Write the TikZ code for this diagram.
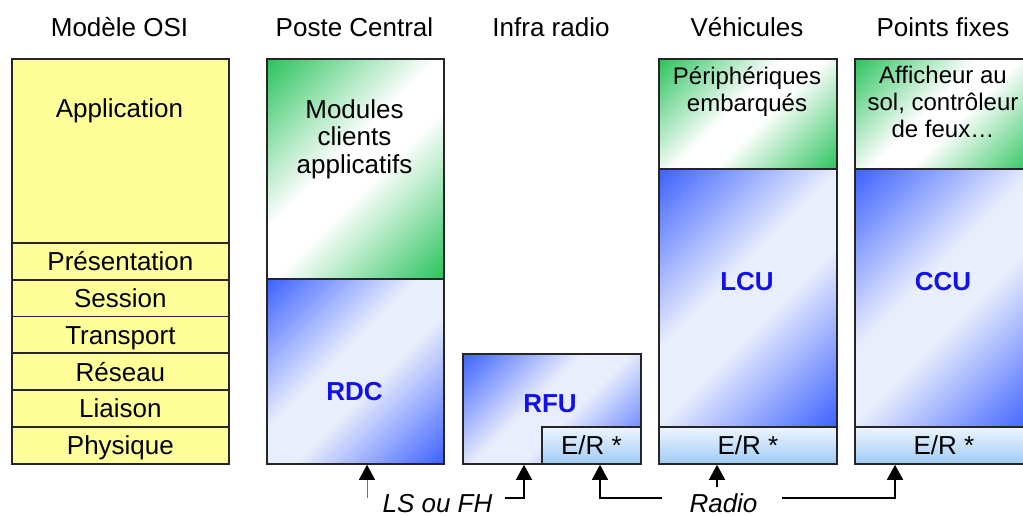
\documentclass[tikz,border=0pt]{standalone}
\usepackage{fontspec}
\setmainfont{Liberation Sans}
\usepackage{xcolor}
\usepackage{tikz}
\usetikzlibrary{arrows.meta}
\usetikzlibrary{shadings}
\definecolor{osijaune}{HTML}{FFFF99}
\definecolor{bleufonce}{HTML}{4064FF}
\definecolor{bleuclair}{HTML}{E9EEFC}
\definecolor{vertfonce}{HTML}{2EC45F}
\definecolor{erbleu}{HTML}{A0CCF6}
\definecolor{erclair}{HTML}{EEF5FF}
\definecolor{textebleu}{HTML}{1010F0}
\newcommand{\taille}{\fontsize{26}{27.5}\selectfont}
\newcommand{\petite}{\fontsize{24}{27}\selectfont}

\pgfdeclarehorizontalshading{bleudiag}{100bp}{color(0bp)=(bleufonce); color(15bp)=(bleufonce); color(44bp)=(bleuclair); color(56bp)=(bleuclair); color(85bp)=(bleufonce); color(100bp)=(bleufonce)}
\pgfdeclarehorizontalshading{vertdiag}{100bp}{color(0bp)=(vertfonce); color(15bp)=(vertfonce); color(45bp)=(white); color(55bp)=(white); color(85bp)=(vertfonce); color(100bp)=(vertfonce)}

\tikzset{
  txt/.style={font=\taille, align=center},
  lbl/.style={font=\taille, text height=18.6pt, text depth=0pt, inner sep=0pt},
  unite/.style={lbl, font=\taille\bfseries, text=textebleu},
  boite/.style={draw=black!85, line width=1.8pt, rectangle, inner sep=0pt, anchor=north west},
  osi/.style={boite, lbl, fill=osijaune, minimum width=217pt, minimum height=36.8pt},
  vertbox/.style={boite, shade, shading=vertdiag, shading angle=-45},
  bleubox/.style={boite, shade, shading=bleudiag, shading angle=-45},
  erbox/.style={boite, lbl, top color=erclair, bottom color=erbleu, minimum height=37pt},
  fleche/.style={line width=1.5pt, -{Triangle[length=15pt,width=16pt,color=black]}}
}

\begin{document}
\begin{tikzpicture}[x=1pt,y=-1pt]
\useasboundingbox (0,0) rectangle (1023,516);
% titres
\node[lbl] (tosi) at (119.5,27.7) {Modèle OSI};
\node[lbl] (tposte) at (354.5,27.7) {Poste Central};
\node[lbl] (tinfra) at (551,27.7) {Infra radio};
\node[lbl] (tvehic) at (747,27.7) {Véhicules};
\node[lbl] (tfixes) at (943,27.7) {Points fixes};

% modele OSI
\node[osi, minimum height=184pt] (app) at (11,58) {};
\node[lbl] (apptxt) at (119.5,108.5) {Application};
\foreach \i/\couche in {0/Présentation,1/Session,2/Transport,3/Réseau,4/Liaison,5/Physique}
    \node[osi] (osi\i) at (11,{242+36.8*\i}) {\couche};

% poste central
\node[vertbox, minimum width=177pt, minimum height=220pt] (modules) at (266,58) {};
\node[txt] (modtxt) at (354.5,139) {Modules\\clients\\applicatifs};
\node[bleubox, minimum width=177pt, minimum height=185pt] (rdcbox) at (266,278) {};
\node[unite] (rdc) at (354.5,391) {RDC};

% infra radio
\node[bleubox, minimum width=178pt, minimum height=110pt] (rfubox) at (462,353) {};
\node[unite] (rfu) at (550,403.5) {RFU};
\node[erbox, minimum width=99pt] (errfu) at (541,426) {E/R *};

% vehicules
\node[vertbox, minimum width=178pt, minimum height=110pt] (periph) at (658,58) {};
\node[txt, font=\petite] (periphtxt) at (747,92) {Périphériques\\embarqués};
\node[bleubox, minimum width=178pt, minimum height=258pt] (lcubox) at (658,168) {};
\node[unite] (lcu) at (747,281) {LCU};
\node[erbox, minimum width=178pt] (erlcu) at (658,426) {E/R *};

% points fixes
\node[vertbox, minimum width=178pt, minimum height=110pt] (affich) at (854,58) {};
\node[txt, font=\petite] (affichtxt) at (943,102) {Afficheur au\\sol, contrôleur\\de feux…};
\node[bleubox, minimum width=178pt, minimum height=258pt] (ccubox) at (854,168) {};
\node[unite] (ccu) at (943,281) {CCU};
\node[erbox, minimum width=178pt] (erccu) at (854,426) {E/R *};

% liaisons
\node[lbl, font=\taille\itshape] (lsfh) at (437.5,503) {LS ou FH};
\node[lbl, font=\taille\itshape] (radio) at (723.5,503) {Radio};
\coordinate (ls) at (367,498);
\coordinate (lsfin) at (505,498);
\coordinate (radiog) at (662,498);
\coordinate (radiod) at (782,498);
\coordinate (vstub) at (717,487);
\draw[fleche, line width=0.6pt, black!55] (ls) -- (rdcbox.south -| ls);
\draw[fleche] (lsfin) -| (rfubox.south -| 524,0);
\draw[fleche] (radiog) -| (errfu.south -| 600,0);
\draw[fleche] (radiod) -| (erccu.south -| 895,0);
\draw[fleche] (vstub) -- (erlcu.south -| vstub);
\end{tikzpicture}
\end{document}
